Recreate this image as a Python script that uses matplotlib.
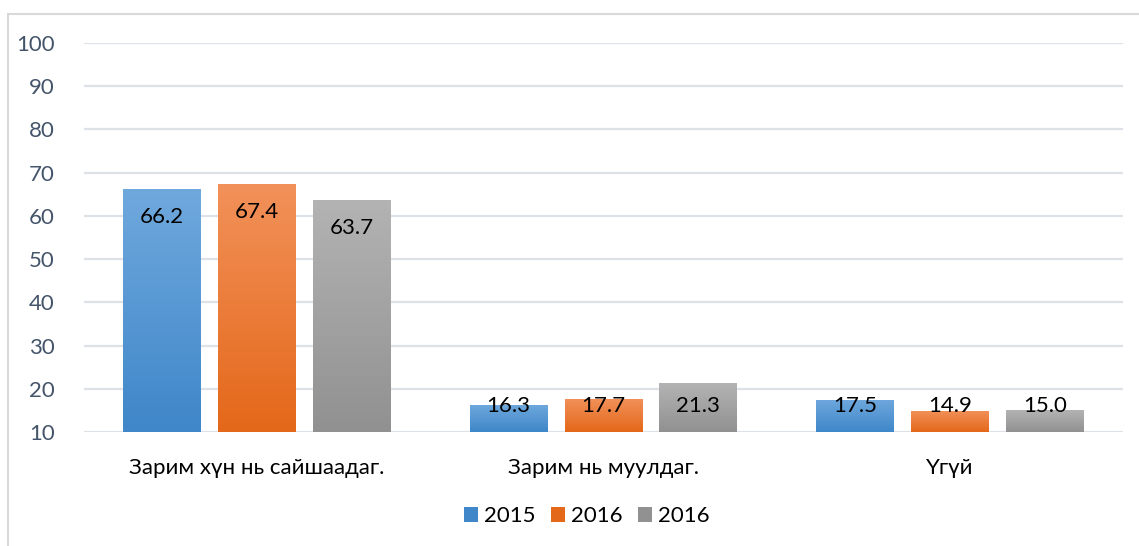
import numpy as np
import matplotlib
matplotlib.use("Agg")
import matplotlib.pyplot as plt
from matplotlib.patches import Rectangle
from matplotlib.colors import LinearSegmentedColormap

plt.rcParams['font.family'] = ['Lato', 'DejaVu Sans']

# data
categories = ["Зарим хүн нь сайшаадаг.", "Зарим нь муулдаг.", "Үгүй"]
series_names = ["2015", "2016", "2016"]
values_2015 = [66.2, 16.3, 17.5]
values_2016 = [67.4, 17.7, 14.9]
values_2016b = [63.7, 21.3, 15.0]
yticks = [10, 20, 30, 40, 50, 60, 70, 80, 90, 100]

all_values = [values_2015, values_2016, values_2016b]
# (top colour, bottom colour) per series
grads = [("#6fa8dd", "#3f87c9"), ("#f2915a", "#e4681a"), ("#b3b3b3", "#919191")]

fs = 16

fig = plt.figure(figsize=(11.39, 5.46), dpi=100)
ax = fig.add_axes([0.0737, 0.2088, 0.9123, 0.7124])

x = np.arange(len(categories))
width = 0.225
step = 0.274

for i, vals in enumerate(all_values):
    pos = x + (i - 1) * step
    bars = ax.bar(pos, np.array(vals) - 10, width, bottom=10,
                  color=grads[i][1], label=series_names[i], zorder=2)
    cmap = LinearSegmentedColormap.from_list("g%d" % i, [grads[i][1], grads[i][0]])
    for b, v in zip(bars, vals):
        x0 = b.get_x()
        im = ax.imshow(np.linspace(0, 1, 100).reshape(-1, 1), cmap=cmap,
                       origin="lower", aspect="auto", zorder=3,
                       extent=[x0, x0 + b.get_width(), 10, v])
        im.set_clip_path(b)
        ax.text(b.get_x() + b.get_width() / 2, max(v - 6.5, 16.0), f"{v:.1f}",
                ha="center", va="center", fontsize=fs, color="black", zorder=4)

ax.set_xlim(-0.5, 2.5)
ax.set_ylim(10, 100)
ax.set_yticks(yticks)
ax.set_yticklabels([str(t) for t in yticks], fontsize=fs, color="#44546a")
ax.set_xticks(x)
ax.set_xticklabels(categories, fontsize=fs, color="black")
ax.tick_params(axis="both", length=0)
ax.tick_params(axis="x", pad=19)
ax.tick_params(axis="y", pad=21)
ax.grid(axis="y", color="#dde2e8", linewidth=1.6, zorder=0)
for s in ax.spines.values():
    s.set_visible(False)

handles, labels = ax.get_legend_handles_labels()
leg = fig.legend(handles, labels, loc="center", bbox_to_anchor=(0.515, 0.055),
                 ncol=3, frameon=False, fontsize=fs, handlelength=0.65,
                 handleheight=0.65, handletextpad=0.25, columnspacing=0.7)

# outer chart border (left and top visible)
fig.patches.append(Rectangle((8 / 1139, -0.05), 1.2, 1 - 14 / 546 + 0.05,
                             transform=fig.transFigure, fill=False,
                             edgecolor="#d9d9d9", linewidth=1.5))

fig.savefig("out.png", dpi=100)
